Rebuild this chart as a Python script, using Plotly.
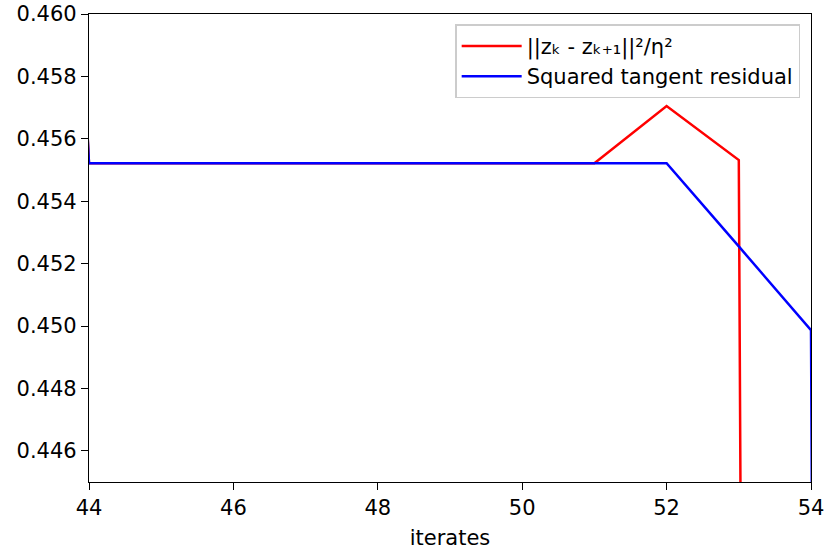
import plotly.graph_objects as go

iterates = [43, 44, 45, 46, 47, 48, 49, 50, 51, 52, 53, 54, 55]
step_norm = [0.50, 0.45522, 0.45522, 0.45522, 0.45522, 0.45522, 0.45522, 0.45522, 0.45522, 0.45705, 0.45532, 0.0, 0.0]
tangent_res = [0.50, 0.45522, 0.45522, 0.45522, 0.45522, 0.45522, 0.45522, 0.45522, 0.45522, 0.45522, 0.45255, 0.44987, 0.0]

font = dict(family="DejaVu Sans", size=21, color="black")

fig = go.Figure()
fig.add_trace(go.Scatter(x=iterates, y=step_norm, mode="lines",
                         name="||zₖ - zₖ₊₁||²/η²", line=dict(color="#ff0000", width=2.5)))
fig.add_trace(go.Scatter(x=iterates, y=tangent_res, mode="lines",
                         name="Squared tangent residual", line=dict(color="#0000ff", width=2.5)))

fig.update_layout(
    width=826, height=554,
    margin=dict(l=89, r=15, t=14, b=72, autoexpand=False),
    paper_bgcolor="white", plot_bgcolor="white",
    font=font,
    showlegend=True,
    legend=dict(x=0.985, xanchor="right", y=0.978, yanchor="top",
                bordercolor="#cccccc", borderwidth=1.5, bgcolor="rgba(255,255,255,0.8)",
                itemwidth=60,
                font=dict(family="DejaVu Sans", size=21, color="black"), tracegroupgap=0),
)
fig.update_xaxes(range=[44, 54], dtick=2, tick0=44, showgrid=False, zeroline=False,
                 automargin=False,
                 showline=True, linecolor="black", linewidth=1.3, mirror=True,
                 ticks="outside", ticklen=7, tickwidth=1.3, tickcolor="black",
                 title=dict(text="iterates", font=font, standoff=10))
fig.update_yaxes(range=[0.445, 0.460], dtick=0.002, tick0=0.446, tickformat=".3f",
                 showgrid=False, zeroline=False, automargin=False,
                 showline=True, linecolor="black", linewidth=1.3, mirror=True,
                 ticks="outside", ticklen=7, tickwidth=1.3, tickcolor="black")

fig.write_html("out.html")
